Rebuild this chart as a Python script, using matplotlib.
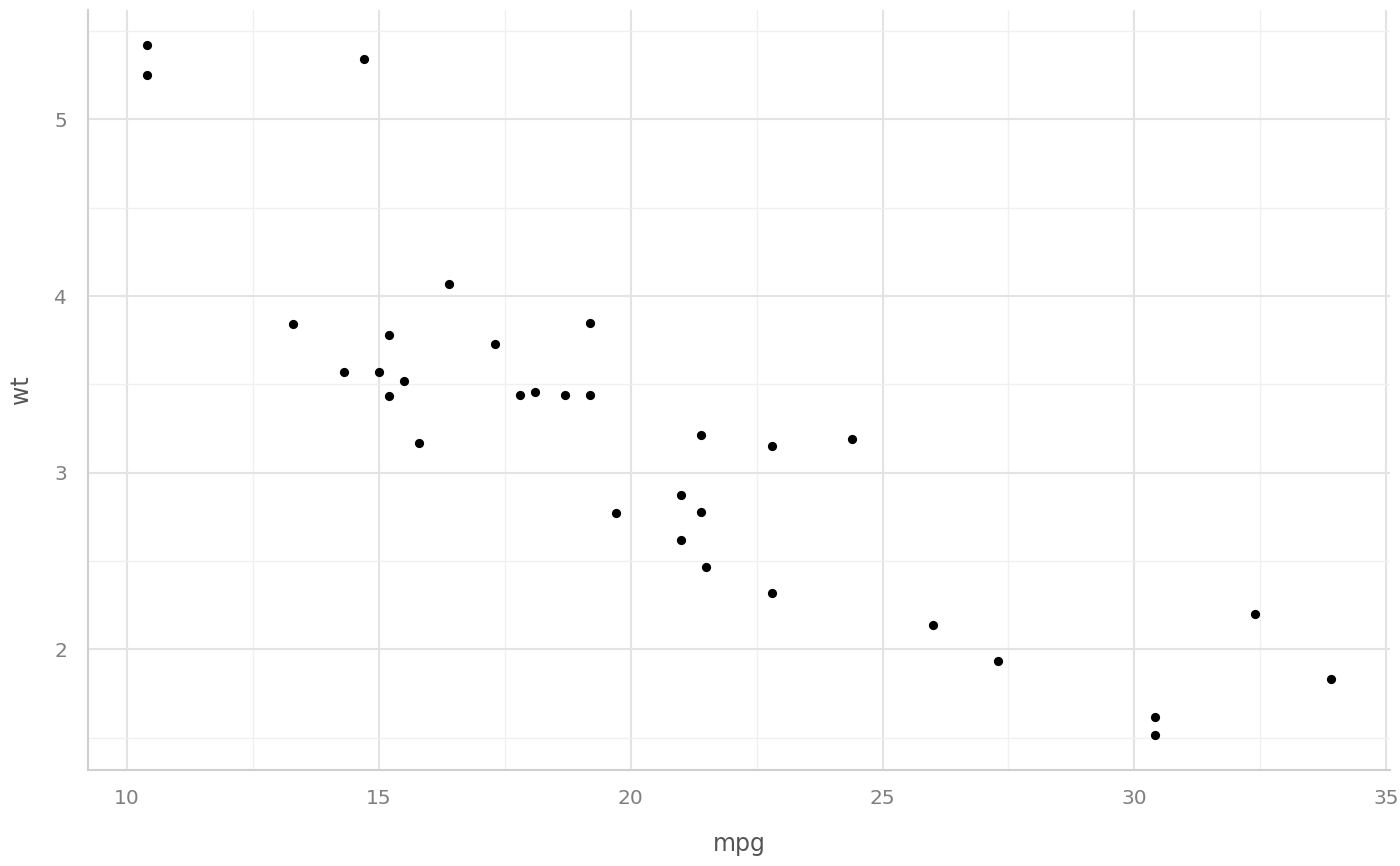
import matplotlib
matplotlib.use('Agg')
import matplotlib.pyplot as plt
from matplotlib.ticker import MultipleLocator

# mtcars: mpg vs wt
mpg = [21.0, 21.0, 22.8, 21.4, 18.7, 18.1, 14.3, 24.4, 22.8, 19.2, 17.8,
       16.4, 17.3, 15.2, 10.4, 10.4, 14.7, 32.4, 30.4, 33.9, 21.5, 15.5,
       15.2, 13.3, 19.2, 27.3, 26.0, 30.4, 15.8, 19.7, 15.0, 21.4]
wt = [2.620, 2.875, 2.320, 3.215, 3.440, 3.460, 3.570, 3.190, 3.150, 3.440,
      3.440, 4.070, 3.730, 3.780, 5.250, 5.424, 5.345, 2.200, 1.615, 1.835,
      2.465, 3.520, 3.435, 3.840, 3.845, 1.935, 2.140, 1.513, 3.170, 2.770,
      3.570, 2.780]

xticks = [10, 15, 20, 25, 30, 35]
yticks = [2, 3, 4, 5]

fig = plt.figure(figsize=(14, 8.66), dpi=100)
ax = fig.add_axes([88 / 1400, 96 / 866, 1302 / 1400, 760 / 866])

ax.scatter(mpg, wt, s=44, color='black', linewidths=0, zorder=3)

# ggplot-style 5% expansion
xr = max(mpg) - min(mpg)
yr = max(wt) - min(wt)
ax.set_xlim(min(mpg) - 0.05 * xr, max(mpg) + 0.05 * xr)
ax.set_ylim(min(wt) - 0.05 * yr, max(wt) + 0.05 * yr)

ax.set_xticks(xticks)
ax.set_yticks(yticks)
ax.xaxis.set_minor_locator(MultipleLocator(2.5))
ax.yaxis.set_minor_locator(MultipleLocator(0.5))

ax.grid(which='major', color='#e3e3e3', linewidth=1.5, zorder=0)
ax.grid(which='minor', color='#f0f0f0', linewidth=1.0, zorder=0)
ax.set_axisbelow(True)

for side in ['top', 'right']:
    ax.spines[side].set_visible(False)
for side in ['left', 'bottom']:
    ax.spines[side].set_color('#cfcfcf')
    ax.spines[side].set_linewidth(1.5)

ax.tick_params(which='both', length=0, labelsize=14.5, labelcolor='#7f7f7f')
ax.tick_params(axis='x', pad=14)
ax.tick_params(axis='y', pad=15)

ax.set_xlabel('mpg', fontsize=17, color='#555555', labelpad=17)
ax.set_ylabel('wt', fontsize=17, color='#555555', labelpad=15)

fig.savefig('out.png', dpi=100)
